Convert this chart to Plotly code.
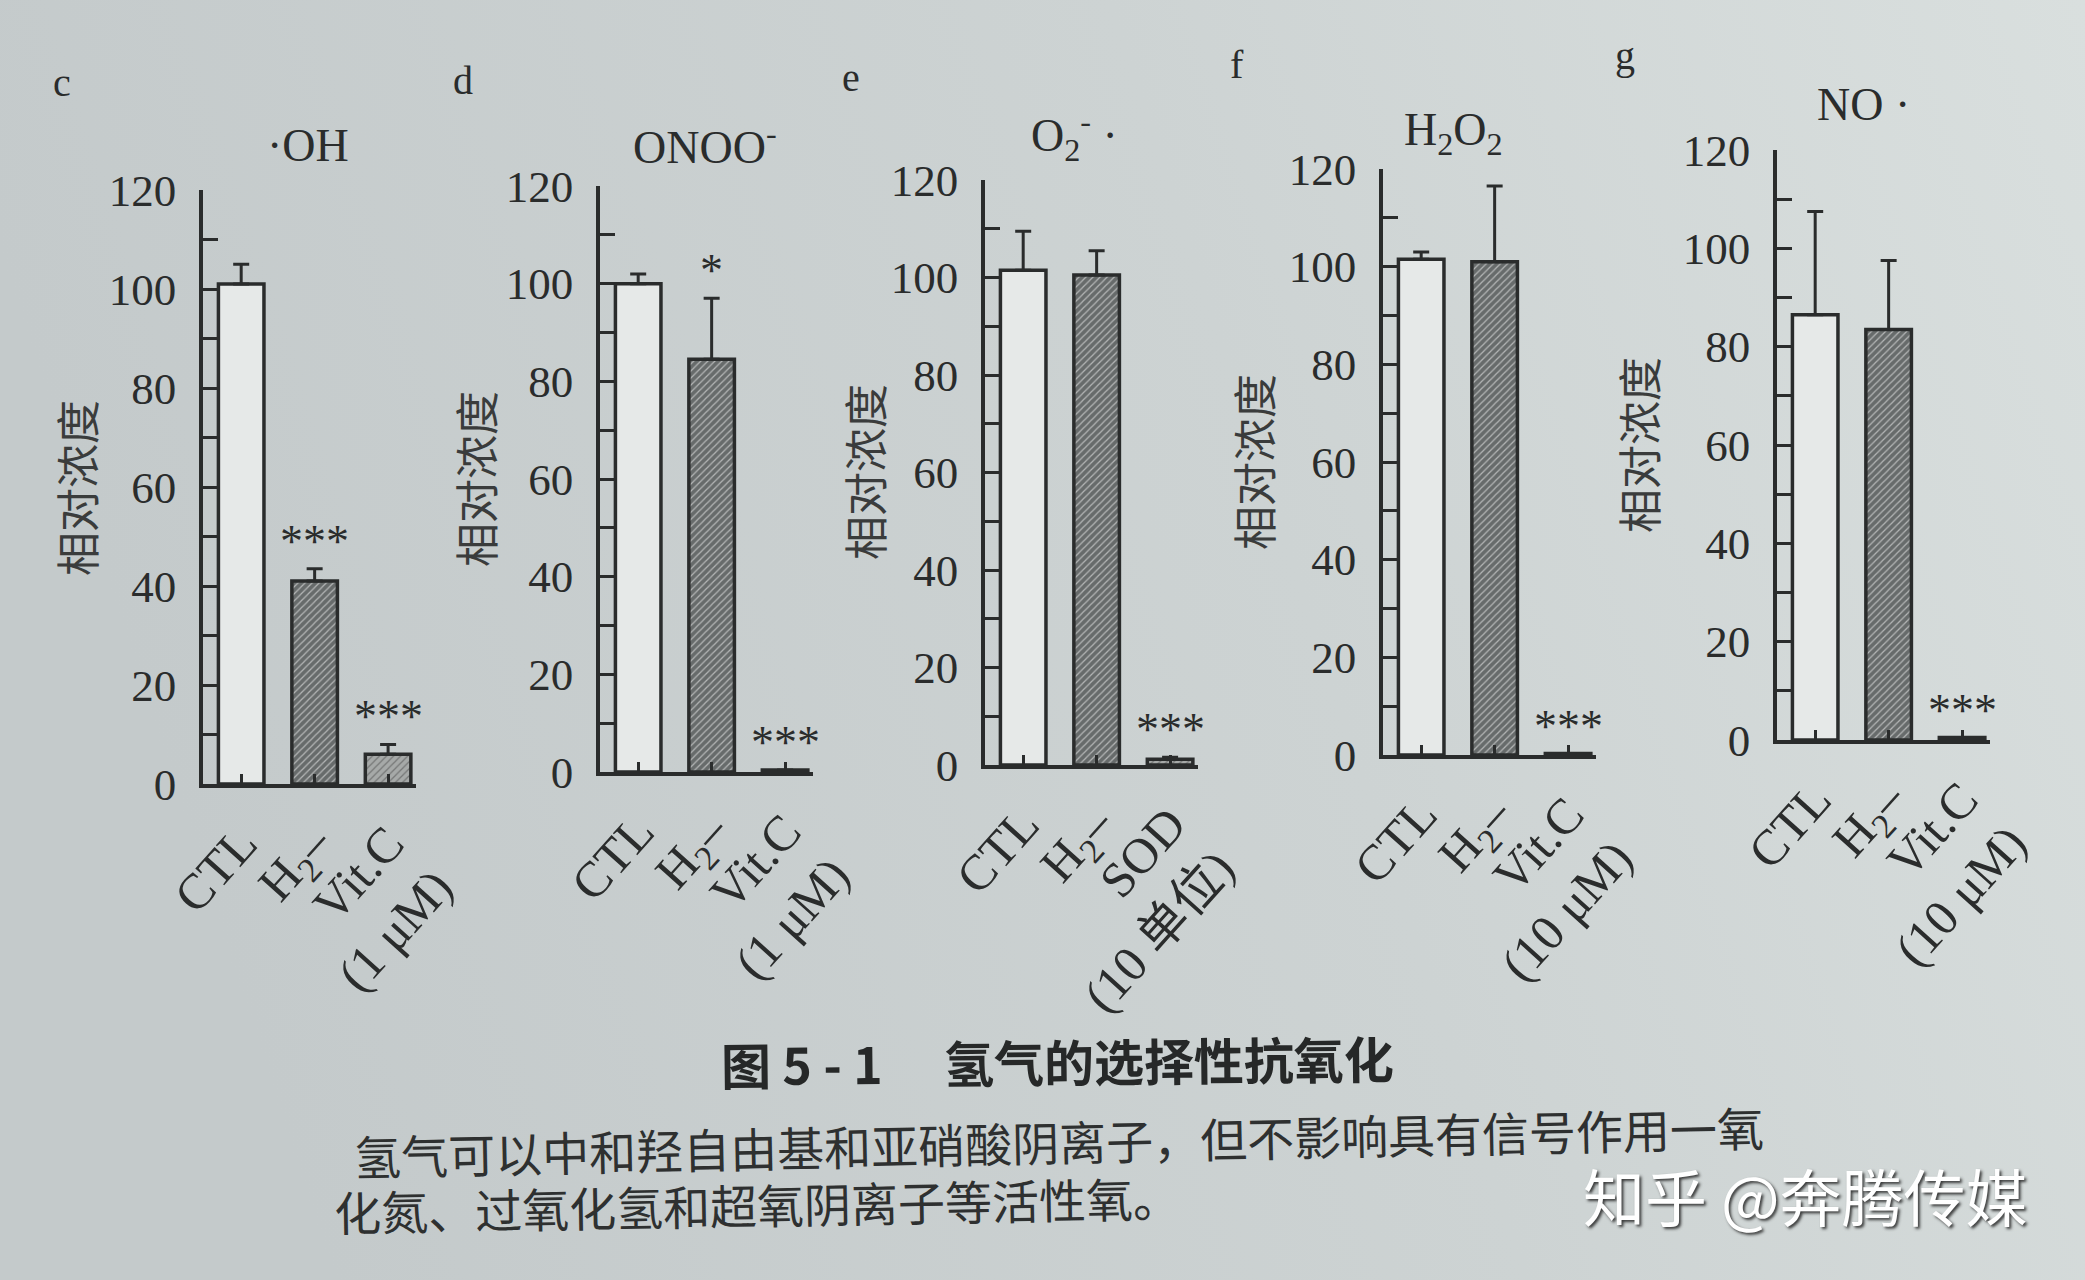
import base64
import plotly.graph_objects as go

W, H = 2085, 1280

# ---------------- data ----------------
panel_letters = ["c", "d", "e", "f", "g"]
panel_titles = ["·OH", "ONOO<sup>-</sup>", "O<sub>2</sub><sup>-</sup> ·",
                "H<sub>2</sub>O<sub>2</sub>", "NO ·"]

cats_c = ["CTL", "H<sub>2</sub>–", "Vit.C<br>(1 μM)"]
cats_d = ["CTL", "H<sub>2</sub>–", "Vit.C<br>(1 μM)"]
cats_e = ["CTL", "H<sub>2</sub>–", "SOD<br>(10 单位)"]
cats_f = ["CTL", "H<sub>2</sub>–", "Vit.C<br>(10 μM)"]
cats_g = ["CTL", "H<sub>2</sub>–", "Vit.C<br>(10 μM)"]

values_c = [101, 41, 6]
values_d = [100, 84.5, 0.4]
values_e = [101.5, 100.5, 1.2]
values_f = [101.5, 101, 0.3]
values_g = [86.5, 83.5, 0.5]

err_c = [4, 2.5, 2]
err_d = [2, 12.5, 0]
err_e = [8, 5, 0.4]
err_f = [1.5, 15.5, 0]
err_g = [21, 14, 0]

sig_c = ["", "***", "***"]
sig_d = ["", "*", "***"]
sig_e = ["", "", "***"]
sig_f = ["", "", "***"]
sig_g = ["", "", "***"]

y_tickvals = [0, 20, 40, 60, 80, 100, 120]
y_label = "相对浓度"

caption_title = "图 5 - 1　 氢气的选择性抗氧化"
caption_line1 = "氢气可以中和羟自由基和亚硝酸阴离子，但不影响具有信号作用一氧"
caption_line2 = "化氮、过氧化氢和超氧阴离子等活性氧。"
watermark = "知乎 @奔腾传媒"

cats = [cats_c, cats_d, cats_e, cats_f, cats_g]
values = [values_c, values_d, values_e, values_f, values_g]
errs = [err_c, err_d, err_e, err_f, err_g]
sigs = [sig_c, sig_d, sig_e, sig_f, sig_g]

# ---------------- layout geometry (pixels) ----------------
axis_x_px = [203, 600, 985, 1383, 1777]
zero_y_px = [784, 772, 765, 755, 740]
top_y_px = [190, 186, 180, 169, 150]
plot_w_px = 213
title_pos = [(308, 146), (705, 144), (1074, 136), (1453, 133), (1863, 104)]
letter_pos = [(62, 82), (463, 80), (851, 77), (1237, 64), (1625, 56)]
ylabel_pos = [(76, 488), (475, 479), (864, 472), (1253, 462), (1638, 445)]

INK = "#2a2c2c"
SERIF = "Liberation Serif, Noto Sans CJK SC, serif"
CJK = "Noto Sans CJK SC, sans-serif"

bar_fill = ["#e6e9e8", "#676b6b", "#a6a9a8"]
pat_fg = ["#e6e9e8", "#3f4242", "#6f7272"]


def fx(px):
    return px / W


def fy(py):
    return 1 - py / H


def note(px, py, text, font, **kw):
    d = dict(xref="paper", yref="paper", x=fx(px), y=fy(py), text=text,
             showarrow=False, xanchor="center", yanchor="middle", font=font)
    d.update(kw)
    return d


svg = ("<svg xmlns='http://www.w3.org/2000/svg' width='2085' height='1280'>"
       "<defs><linearGradient id='g' x1='0' y1='0.2' x2='1' y2='0'>"
       "<stop offset='0' stop-color='#c4cacb'/>"
       "<stop offset='0.55' stop-color='#cdd3d3'/>"
       "<stop offset='1' stop-color='#d9dfde'/></linearGradient></defs>"
       "<rect width='2085' height='1280' fill='url(#g)'/></svg>")
bg_src = "data:image/svg+xml;base64," + base64.b64encode(svg.encode()).decode()

fig = go.Figure()
layout = dict(
    width=W, height=H,
    margin=dict(l=0, r=0, t=0, b=0, pad=0, autoexpand=False),
    paper_bgcolor="#cdd3d3",
    plot_bgcolor="rgba(0,0,0,0)",
    showlegend=False,
    images=[dict(source=bg_src, xref="paper", yref="paper", x=0, y=1,
                 sizex=1, sizey=1, xanchor="left", yanchor="top",
                 sizing="stretch", layer="below")],
)
annotations = []

for i in range(5):
    sfx = "" if i == 0 else str(i + 1)
    xa, ya = "x" + sfx, "y" + sfx
    fig.add_trace(go.Bar(
        x=[0, 1, 2], y=values[i], xaxis=xa, yaxis=ya,
        width=0.62,
        marker=dict(color=bar_fill, line=dict(color=INK, width=3.5),
                    pattern=dict(shape=["", "/", "/"], fgcolor=pat_fg,
                                 size=5, solidity=0.25)),
        error_y=dict(type="data", symmetric=False, array=errs[i],
                     arrayminus=[0, 0, 0], thickness=3, width=8, color=INK),
        hoverinfo="skip",
    ))
    layout["xaxis" + sfx] = dict(
        domain=[fx(axis_x_px[i]), fx(axis_x_px[i] + plot_w_px)],
        anchor=ya, range=[-0.52, 2.38], automargin=False,
        tickmode="array", tickvals=[0, 1, 2], ticktext=cats[i],
        ticks="inside", ticklen=10, tickwidth=3, tickcolor=INK,
        showline=True, linecolor=INK, linewidth=3.5,
        showgrid=False, zeroline=False, tickangle=-48,
        tickfont=dict(family=SERIF, size=50, color=INK),
        ticklabelstandoff=6,
    )
    layout["yaxis" + sfx] = dict(
        domain=[fy(zero_y_px[i]), fy(top_y_px[i])],
        anchor=xa, range=[0, 120], automargin=False,
        tickmode="array", tickvals=y_tickvals,
        ticks="inside", ticklen=15, tickwidth=3, tickcolor=INK,
        minor=dict(dtick=10, tick0=0, ticks="inside", ticklen=15,
                   tickwidth=3, tickcolor=INK, showgrid=False),
        showline=True, linecolor=INK, linewidth=3.5,
        showgrid=False, zeroline=False,
        tickfont=dict(family=SERIF, size=45, color=INK),
        ticklabelstandoff=14,
    )
    for j in range(3):
        if sigs[i][j]:
            annotations.append(dict(
                xref=xa, yref=ya, x=j, y=values[i][j] + errs[i][j],
                text=sigs[i][j], showarrow=False, xanchor="center",
                yanchor="bottom",
                font=dict(family=SERIF, size=46, color=INK)))
    tx, ty = title_pos[i]
    annotations.append(note(tx, ty, panel_titles[i],
                            dict(family=SERIF, size=46, color=INK)))
    lx, ly = letter_pos[i]
    annotations.append(note(lx, ly, panel_letters[i],
                            dict(family=SERIF, size=40, color=INK)))
    gx, gy = ylabel_pos[i]
    annotations.append(note(gx, gy, y_label,
                            dict(family=CJK, size=44, color="#3a3c3c"),
                            textangle=-90))

annotations.append(note(1057, 1060, "<b>" + caption_title + "</b>",
                        dict(family=CJK, size=50, color="#262828"),
                        textangle=-0.6))
annotations.append(note(1059, 1140, caption_line1,
                        dict(family=CJK, size=47, color="#2e3030"),
                        textangle=-1.2))
annotations.append(note(757, 1203, caption_line2,
                        dict(family=CJK, size=47, color="#2e3030"),
                        textangle=-1.0))
annotations.append(note(1805, 1195, watermark,
                        dict(family=CJK, size=62, color="#ffffff",
                             shadow="2px 2px 3px rgba(30,30,30,0.85)")))

layout["annotations"] = annotations
fig.update_layout(**layout)
fig.write_html("out.html", config={"displayModeBar": False},
               post_script="document.body.style.margin='0';"
                           "document.body.style.overflow='hidden';")
